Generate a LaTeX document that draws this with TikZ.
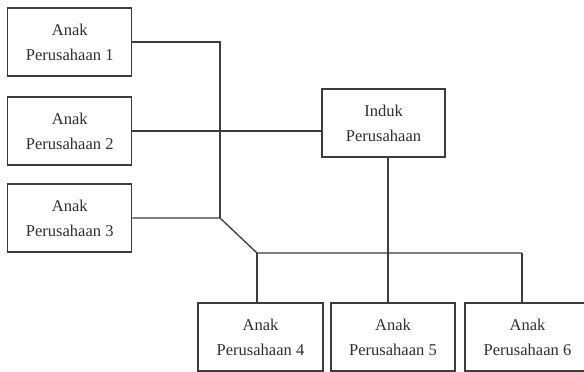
\documentclass[tikz,border=0pt]{standalone}
\usepackage{fontspec}
\setmainfont{Liberation Serif}
\definecolor{ink}{HTML}{3C3C3C}
\definecolor{txt}{HTML}{303030}
\begin{document}
\begin{tikzpicture}[x=1pt,y=1pt,
  box/.style={draw=ink,line width=1.4pt,fill=white,minimum width=124pt,minimum height=68pt,
    align=center,inner sep=0pt,text=txt,font=\fontsize{16.5}{25}\selectfont},
  wire/.style={draw=ink,line width=1.3pt}]
\useasboundingbox (0,0) rectangle (584,372);
\clip (0,0) rectangle (584,372);
\node[box] (b1) at (69.75,330) {Anak\\Perusahaan 1};
\node[box] (b2) at (69.75,241) {Anak\\Perusahaan 2};
\node[box] (b3) at (69.75,154) {Anak\\Perusahaan 3};
\node[box,minimum width=123pt] (ind) at (383.5,249) {Induk\\Perusahaan};
\node[box,minimum width=125pt] (b4) at (260.5,35) {Anak\\Perusahaan 4};
\node[box] (b5) at (393,35) {Anak\\Perusahaan 5};
\node[box,minimum width=125pt] (b6) at (527.5,35) {Anak\\Perusahaan 6};
\coordinate (jx) at (220,0);
\coordinate (j1) at (b3.east -| jx);
\coordinate (j2) at (257,119);
\coordinate (j3) at (522,119);
\coordinate (j5) at (388,0);
\draw[wire] (b1.east) -- (b1.east -| jx) -- (j1);
\draw[wire] (b2.east) -- (b2.east -| ind.west);
\draw[wire] (b3.east) -- (j1) -- (j2) -- (j3);
\draw[wire] (j2) -- (j2 |- b4.north);
\draw[wire] (ind.south -| j5) -- (j5 |- b5.north);
\draw[wire] (j3) -- (j3 |- b6.north);
\end{tikzpicture}
\end{document}
